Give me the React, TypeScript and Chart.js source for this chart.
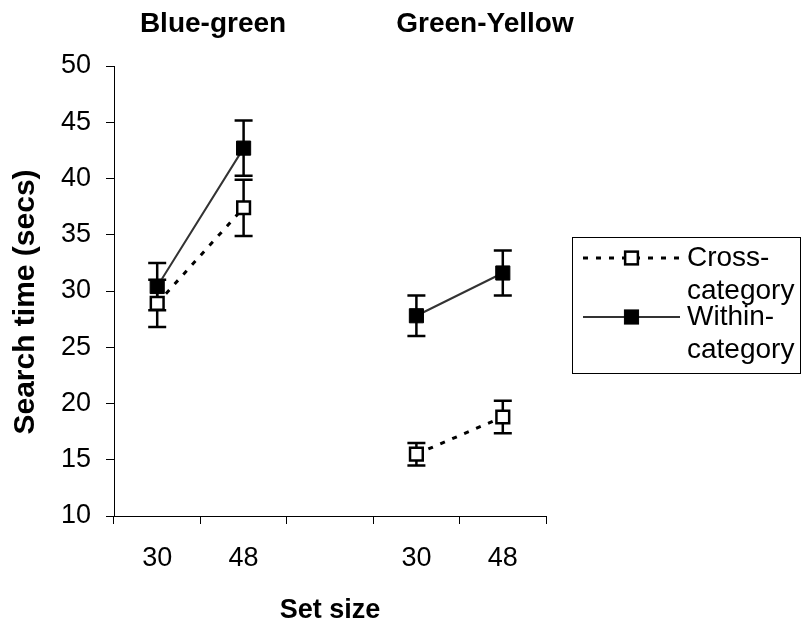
import React, { useEffect, useRef } from "react";
import { Chart, registerables } from "chart.js";

Chart.register(...registerables);

// ---- data ----
const categories = ["30", "48", "", "30", "48"];
const groupTitles = ["Blue-green", "Green-Yellow"];
const crossLabel = ["Cross-", "category"];
const withinLabel = ["Within-", "category"];
const crossValues = [28.9, 37.4, null, 15.5, 18.8];
const crossErrors = [2.1, 2.5, null, 1.0, 1.45];
const withinValues = [30.4, 42.7, null, 27.8, 31.6];
const withinErrors = [2.1, 2.45, null, 1.8, 2.0];
const yMin = 10;
const yMax = 50;
const yStep = 5;
const xTitle = "Set size";
const yTitle = "Search time (secs)";

const FONT = "'Liberation Sans', Arial, Helvetica, sans-serif";

const errorBarPlugin = {
  id: "errorBars",
  beforeDatasetsDraw(chart: any) {
    const { ctx, scales } = chart;
    const x = scales.x;
    const y = scales.y;
    ctx.save();
    ctx.strokeStyle = "#000";
    ctx.lineWidth = 2.5;
    chart.data.datasets.forEach((ds: any) => {
      const errs = ds.errors as (number | null)[];
      ds.data.forEach((v: number | null, j: number) => {
        const e = errs[j];
        if (v == null || e == null) return;
        const px = x.getPixelForValue(j);
        const top = y.getPixelForValue(v + e);
        const bot = y.getPixelForValue(v - e);
        ctx.beginPath();
        ctx.moveTo(px, top);
        ctx.lineTo(px, bot);
        ctx.moveTo(px - 9, top);
        ctx.lineTo(px + 9, top);
        ctx.moveTo(px - 9, bot);
        ctx.lineTo(px + 9, bot);
        ctx.stroke();
      });
    });
    ctx.restore();
  },
};

const decorPlugin = {
  id: "decor",
  afterDraw(chart: any) {
    const { ctx, chartArea } = chart;
    ctx.save();
    ctx.fillStyle = "#000";
    // group titles
    ctx.font = `bold 28px ${FONT}`;
    ctx.textAlign = "center";
    ctx.textBaseline = "middle";
    const titleX = [chartArea.left + 99, chartArea.left + 371];
    groupTitles.forEach((t, i) => ctx.fillText(t, titleX[i], 24));

    // y axis title
    ctx.save();
    ctx.translate(26, 302);
    ctx.rotate(-Math.PI / 2);
    ctx.font = `bold 30px ${FONT}`;
    ctx.fillText(yTitle, 0, 0);
    ctx.restore();

    // legend
    const bx = chartArea.right + 26;
    const by = 237;
    const bw = 228;
    const bh = 136;
    ctx.strokeStyle = "#000";
    ctx.lineWidth = 1;
    ctx.strokeRect(bx + 0.5, by + 0.5, bw, bh);
    const labels = [crossLabel, withinLabel];
    const rowY = [by + 21, by + 80];
    const lineH = 33;
    chart.data.datasets.forEach((ds: any, i: number) => {
      const cy = rowY[i];
      const x0 = bx + 11;
      const x1 = bx + 108;
      const mx = (x0 + x1) / 2;
      ctx.save();
      ctx.strokeStyle = ds.borderColor;
      ctx.lineWidth = ds.borderWidth;
      ctx.setLineDash(ds.borderDash || []);
      ctx.beginPath();
      ctx.moveTo(x0, cy);
      ctx.lineTo(x1, cy);
      ctx.stroke();
      ctx.restore();
      const s = ds.pointRadius * Math.SQRT1_2;
      ctx.fillStyle = ds.pointBackgroundColor;
      ctx.fillRect(mx - s, cy - s, 2 * s, 2 * s);
      ctx.strokeStyle = ds.pointBorderColor;
      ctx.lineWidth = ds.pointBorderWidth;
      ctx.strokeRect(mx - s, cy - s, 2 * s, 2 * s);
      ctx.fillStyle = "#000";
      ctx.font = `28px ${FONT}`;
      ctx.textAlign = "left";
      ctx.textBaseline = "middle";
      labels[i].forEach((t, k) => ctx.fillText(t, bx + 115, cy + k * lineH));
    });
    ctx.restore();
  },
};

export default function App() {
  const ref = useRef<HTMLCanvasElement | null>(null);
  useEffect(() => {
    document.body.style.margin = "0";
    if (!ref.current) return;
    Chart.defaults.font.family = FONT;
    Chart.defaults.color = "#000";
    const chart = new Chart(ref.current, {
      type: "line",
      data: {
        labels: categories,
        datasets: [
          {
            label: crossLabel.join(""),
            data: crossValues,
            errors: crossErrors,
            borderColor: "#000",
            borderWidth: 3,
            borderDash: [5, 8],
            pointStyle: "rect",
            pointRadius: 9,
            pointBackgroundColor: "#fff",
            pointBorderColor: "#000",
            pointBorderWidth: 2.5,
            spanGaps: false,
            tension: 0,
          } as any,
          {
            label: withinLabel.join(""),
            data: withinValues,
            errors: withinErrors,
            borderColor: "#333",
            borderWidth: 2,
            pointStyle: "rect",
            pointRadius: 10,
            pointBackgroundColor: "#000",
            pointBorderColor: "#000",
            pointBorderWidth: 1,
            spanGaps: false,
            tension: 0,
          } as any,
        ],
      },
      options: {
        responsive: false,
        animation: false,
        layout: { padding: { top: 66, right: 257, left: 0, bottom: 0 } },
        plugins: {
          legend: { display: false },
          tooltip: { enabled: false },
          title: { display: false },
        },
        scales: {
          x: {
            type: "category",
            offset: true,
            grid: {
              offset: true,
              drawOnChartArea: false,
              drawTicks: true,
              tickLength: 8,
              color: "#000",
            },
            border: { color: "#000", width: 1 },
            ticks: { font: { size: 27 }, color: "#000", padding: 18, maxRotation: 0, autoSkip: false },
            title: {
              display: true,
              text: xTitle,
              font: { size: 27, weight: "bold" },
              color: "#000",
              padding: { top: 0, bottom: 2 },
            },
            afterFit(s: any) {
              s.height = 113;
            },
          },
          y: {
            min: yMin,
            max: yMax,
            ticks: { stepSize: yStep, font: { size: 27 }, color: "#000", padding: 15 },
            grid: {
              drawOnChartArea: false,
              drawTicks: true,
              tickLength: 8,
              color: "#000",
            },
            border: { color: "#000", width: 1 },
            afterFit(s: any) {
              s.width = 114;
            },
          },
        },
      } as any,
      plugins: [errorBarPlugin, decorPlugin],
    });
    return () => chart.destroy();
  }, []);
  return (
    <div style={{ width: 803, height: 629 }}>
      <canvas ref={ref} width={803} height={629} />
    </div>
  );
}
